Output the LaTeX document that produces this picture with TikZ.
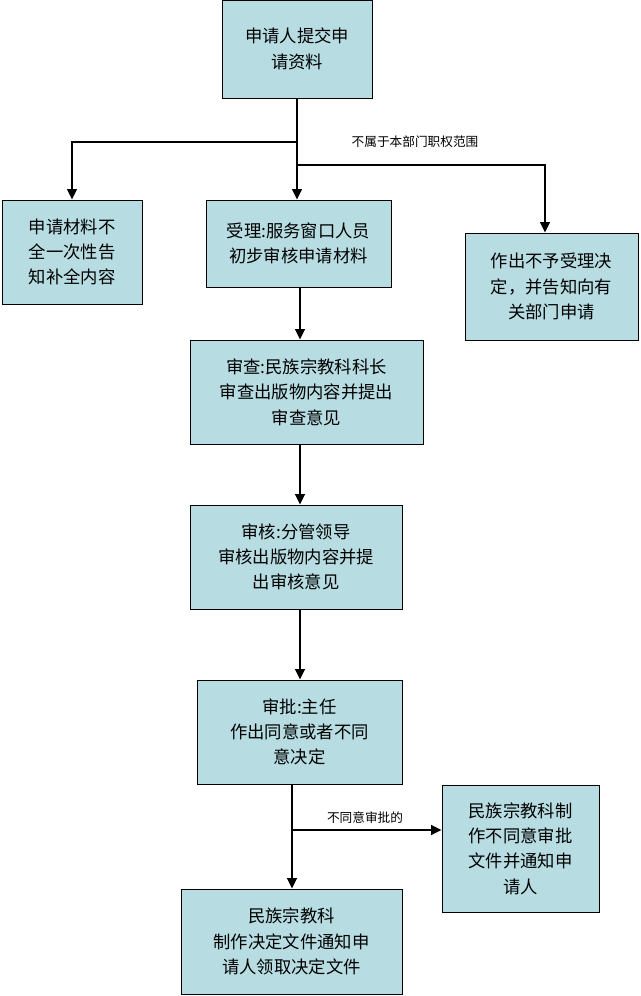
\documentclass[tikz,border=0pt]{standalone}
\usepackage{fontspec}
\newfontfamily\cjk{Noto Sans CJK SC}
\usetikzlibrary{arrows.meta}
\definecolor{boxfill}{HTML}{B7DDE3}
\begin{document}
\begin{tikzpicture}[x=0.75pt,y=-0.75pt,font=\cjk\fontsize{13}{19}\selectfont]
\tikzstyle{box}=[draw,fill=boxfill,align=center,inner sep=0pt]
\tikzstyle{flow}=[line width=2pt,-{Triangle[length=8pt,width=7pt]}]
\tikzstyle{note}=[font=\cjk\fontsize{9.5}{12}\selectfont]
\useasboundingbox (0,0) rectangle (640,996);
\node[box,minimum width=150*0.75pt,minimum height=98*0.75pt] (apply) at (297,49) {申请人提交申\\请资料};
\node[box,minimum width=140*0.75pt,minimum height=104*0.75pt] (notice) at (72,252) {申请材料不\\全一次性告\\知补全内容};
\node[box,minimum width=185*0.75pt,minimum height=87*0.75pt] (accept) at (298.5,243.5) {受理:服务窗口人员\\初步审核申请材料};
\node[box,minimum width=173*0.75pt,minimum height=107*0.75pt] (reject) at (551.5,286.5) {作出不予受理决\\定，并告知向有\\关部门申请};
\node[box,minimum width=233*0.75pt,minimum height=104*0.75pt] (review) at (306.5,392) {审查:民族宗教科科长\\审查出版物内容并提出\\审查意见};
\node[box,minimum width=212*0.75pt,minimum height=104*0.75pt] (check) at (296,557) {审核:分管领导\\审核出版物内容并提\\出审核意见};
\node[box,minimum width=205*0.75pt,minimum height=104*0.75pt] (approve) at (299.5,732) {审批:主任\\作出同意或者不同\\意决定};
\node[box,minimum width=157*0.75pt,minimum height=127*0.75pt] (deny) at (520.5,848.5) {民族宗教科制\\作不同意审批\\文件并通知申\\请人};
\node[box,minimum width=221*0.75pt,minimum height=105*0.75pt] (result) at (291.5,941.5) {民族宗教科\\制作决定文件通知申\\请人领取决定文件};
\coordinate (split) at (297,142);
\coordinate (side) at (297,165);
\coordinate (low) at (292,830);
\draw[line width=2pt] (apply.south) -- (split);
\draw[flow] (split) -- (72,142) -- (notice.north);
\draw[flow] (split) -- (accept.north -| split);
\draw[flow] (side) -- (545,165) -- (reject.north -| 545,0);
\node[note] (outside) at (415,142) {不属于本部门职权范围};
\draw[flow] (accept.south -| 300,0) -- (review.north -| 300,0);
\draw[flow] (review.south -| 300,0) -- (check.north -| 300,0);
\draw[flow] (check.south -| 300,0) -- (approve.north -| 300,0);
\draw[flow] (approve.south -| low) -- (result.north -| low);
\draw[flow] (low) -- (deny.west |- low);
\node[note] (refuse) at (365,818) {不同意审批的};
\end{tikzpicture}
\end{document}
